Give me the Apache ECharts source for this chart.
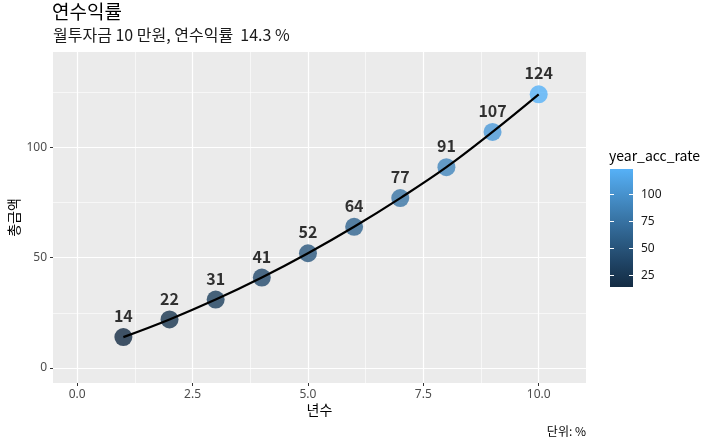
<!DOCTYPE html>
<html>
<head>
<meta charset="utf-8">
<script src="https://cdn.jsdelivr.net/npm/echarts@6/dist/echarts.min.js"></script>
<style>
  html, body { margin: 0; padding: 0; background: #ffffff; }
  #chart { width: 720px; height: 445px; }
</style>
</head>
<body>
<div id="chart"></div>
<script>
// ---- data ----
const years = [1, 2, 3, 4, 5, 6, 7, 8, 9, 10];
const totals = [14, 22, 31, 41, 52, 64, 77, 91, 107, 124];
const xTicks = [0, 2.5, 5, 7.5, 10];
const yTicks = [0, 50, 100];
const legendTicks = [25, 50, 75, 100];
const titleText = '연수익률';
const subtitleText = '월투자금 10 만원, 연수익률  14.3 %';
const xName = '년수';
const yName = '총금액';
const legendTitle = 'year_acc_rate';
const captionText = '단위: %';

// ---- colour scale (ggplot2 default gradient, interpolated in CIELAB) ----
const LOW = '#132B43', HIGH = '#56B1F7';
function hexToRgb(h) { return [parseInt(h.slice(1,3),16), parseInt(h.slice(3,5),16), parseInt(h.slice(5,7),16)]; }
function toLin(c) { c /= 255; return c <= 0.04045 ? c / 12.92 : Math.pow((c + 0.055) / 1.055, 2.4); }
function fromLin(c) { const v = c <= 0.0031308 ? 12.92 * c : 1.055 * Math.pow(c, 1 / 2.4) - 0.055; return Math.max(0, Math.min(255, Math.round(v * 255))); }
const Xn = 0.95047, Yn = 1.0, Zn = 1.08883;
function f(t) { return t > 0.008856 ? Math.cbrt(t) : 7.787 * t + 16 / 116; }
function finv(t) { return t > 0.206893 ? t * t * t : (t - 16 / 116) / 7.787; }
function rgbToLab(rgb) {
  const r = toLin(rgb[0]), g = toLin(rgb[1]), b = toLin(rgb[2]);
  const X = 0.4124564 * r + 0.3575761 * g + 0.1804375 * b;
  const Y = 0.2126729 * r + 0.7151522 * g + 0.0721750 * b;
  const Z = 0.0193339 * r + 0.1191920 * g + 0.9503041 * b;
  const fx = f(X / Xn), fy = f(Y / Yn), fz = f(Z / Zn);
  return [116 * fy - 16, 500 * (fx - fy), 200 * (fy - fz)];
}
function labToHex(lab) {
  const fy = (lab[0] + 16) / 116, fx = fy + lab[1] / 500, fz = fy - lab[2] / 200;
  const X = Xn * finv(fx), Y = Yn * finv(fy), Z = Zn * finv(fz);
  const r = 3.2404542 * X - 1.5371385 * Y - 0.4985314 * Z;
  const g = -0.9692660 * X + 1.8760108 * Y + 0.0415560 * Z;
  const b = 0.0556434 * X - 0.2040259 * Y + 1.0572252 * Z;
  return '#' + [r, g, b].map(c => fromLin(c).toString(16).padStart(2, '0')).join('');
}
const labLow = rgbToLab(hexToRgb(LOW)), labHigh = rgbToLab(hexToRgb(HIGH));
const rampStops = [];
for (let i = 0; i <= 10; i++) {
  const t = i / 10;
  rampStops.push(labToHex(labLow.map((v, k) => v + (labHigh[k] - v) * t)));
}
const cMin = Math.min(...totals), cMax = Math.max(...totals);

const FONT = '"Noto Sans CJK KR", "Noto Sans", sans-serif';
const LATIN = '"Noto Sans", "Noto Sans CJK KR", sans-serif';
const chart = echarts.init(document.getElementById('chart'), null, { renderer: 'canvas' });

const pointData = years.map((x, i) => [x, totals[i]]);

// colorbar geometry
const CB = { left: 610, top: 169, width: 23, height: 118 };

chart.setOption({
  backgroundColor: '#ffffff',
  textStyle: { fontFamily: FONT },
  animation: false,
  title: [
    { text: titleText, left: 52, top: 2, padding: 0, textStyle: { fontFamily: FONT, fontSize: 19, fontWeight: 'normal', color: '#000' } },
    { text: subtitleText, left: 53, top: 27, padding: 0, textStyle: { fontFamily: FONT, fontSize: 16, fontWeight: 'normal', color: '#1a1a1a' } }
  ],
  grid: [
    { left: 53, right: 134, top: 52, bottom: 62, show: true, backgroundColor: '#EBEBEB', borderWidth: 0,
      containLabel: false, outerBoundsMode: 'none' },
    { left: CB.left, top: CB.top, width: CB.width, height: CB.height, show: true, borderWidth: 0,
      containLabel: false, outerBoundsMode: 'none',
      backgroundColor: new echarts.graphic.LinearGradient(0, 1, 0, 0,
        rampStops.map((c, i) => ({ offset: i / (rampStops.length - 1), color: c }))) }
  ],
  xAxis: [
    {
      gridIndex: 0, type: 'value', min: -0.525, max: 11.025, position: 'bottom',
      splitNumber: 5, minInterval: 2.5, maxInterval: 2.5,
      name: xName, nameLocation: 'middle', nameGap: 20, nameMoveOverlap: false,
      nameTextStyle: { fontFamily: FONT, fontSize: 14, color: '#000' },
      axisLine: { show: false, onZero: false },
      axisTick: { show: true, length: 3, customValues: xTicks, lineStyle: { color: '#333333', width: 1 } },
      axisLabel: { customValues: xTicks, margin: 6, fontSize: 12, color: '#4D4D4D', fontFamily: LATIN,
                   formatter: v => Number(v).toFixed(1) },
      splitLine: { show: true, lineStyle: { color: '#ffffff', width: 1.2 } },
      minorTick: { show: false, splitNumber: 2 },
      minorSplitLine: { show: true, lineStyle: { color: '#ffffff', width: 0.6 } }
    },
    { gridIndex: 1, type: 'value', min: 0, max: 1, show: false }
  ],
  yAxis: [
    {
      gridIndex: 0, type: 'value', min: -6.8, max: 143.2, position: 'left',
      splitNumber: 3, minInterval: 50, maxInterval: 50,
      name: yName, nameLocation: 'middle', nameGap: 32, nameMoveOverlap: false,
      nameTextStyle: { fontFamily: FONT, fontSize: 14, color: '#000' },
      axisLine: { show: false, onZero: false },
      axisTick: { show: true, length: 3, customValues: yTicks, lineStyle: { color: '#333333', width: 1 } },
      axisLabel: { customValues: yTicks, margin: 6, fontSize: 12, color: '#4D4D4D', fontFamily: LATIN },
      splitLine: { show: true, lineStyle: { color: '#ffffff', width: 1.2 } },
      minorTick: { show: false, splitNumber: 2 },
      minorSplitLine: { show: true, lineStyle: { color: '#ffffff', width: 0.6 } }
    },
    {
      gridIndex: 1, type: 'value', min: cMin, max: cMax, position: 'right',
      axisLine: { show: false, onZero: false },
      axisTick: { show: true, inside: true, length: 4, customValues: legendTicks, lineStyle: { color: '#ffffff', width: 1 } },
      axisLabel: { customValues: legendTicks, margin: 8, fontSize: 12, color: '#1a1a1a', fontFamily: LATIN },
      splitLine: { show: false }
    },
    {
      gridIndex: 1, type: 'value', min: cMin, max: cMax, position: 'left',
      axisLine: { show: false, onZero: false },
      axisTick: { show: true, inside: true, length: 4, customValues: legendTicks, lineStyle: { color: '#ffffff', width: 1 } },
      axisLabel: { show: false },
      splitLine: { show: false }
    }
  ],
  visualMap: {
    type: 'continuous', show: false, seriesIndex: 0, dimension: 1,
    min: cMin, max: cMax,
    inRange: { color: rampStops }
  },
  graphic: [
    { type: 'text', left: 609, top: 149, style: { text: legendTitle, font: '14px ' + FONT, fill: '#000' } },
    { type: 'text', right: 134, top: 425, style: { text: captionText, font: '12px ' + FONT, fill: '#000' } }
  ],
  series: [
    {
      type: 'scatter', xAxisIndex: 0, yAxisIndex: 0,
      data: pointData, symbolSize: 18, z: 2,
      label: {
        show: true, position: 'top', distance: 4,
        formatter: p => String(Math.round(p.value[1])),
        fontFamily: FONT, fontSize: 16, fontWeight: 'bold', color: '#000'
      }
    },
    {
      type: 'line', xAxisIndex: 0, yAxisIndex: 0,
      data: pointData, smooth: 0.4, showSymbol: false, symbol: 'none', z: 3,
      lineStyle: { color: '#000000', width: 2.2 }
    }
  ]
});
</script>
</body>
</html>
